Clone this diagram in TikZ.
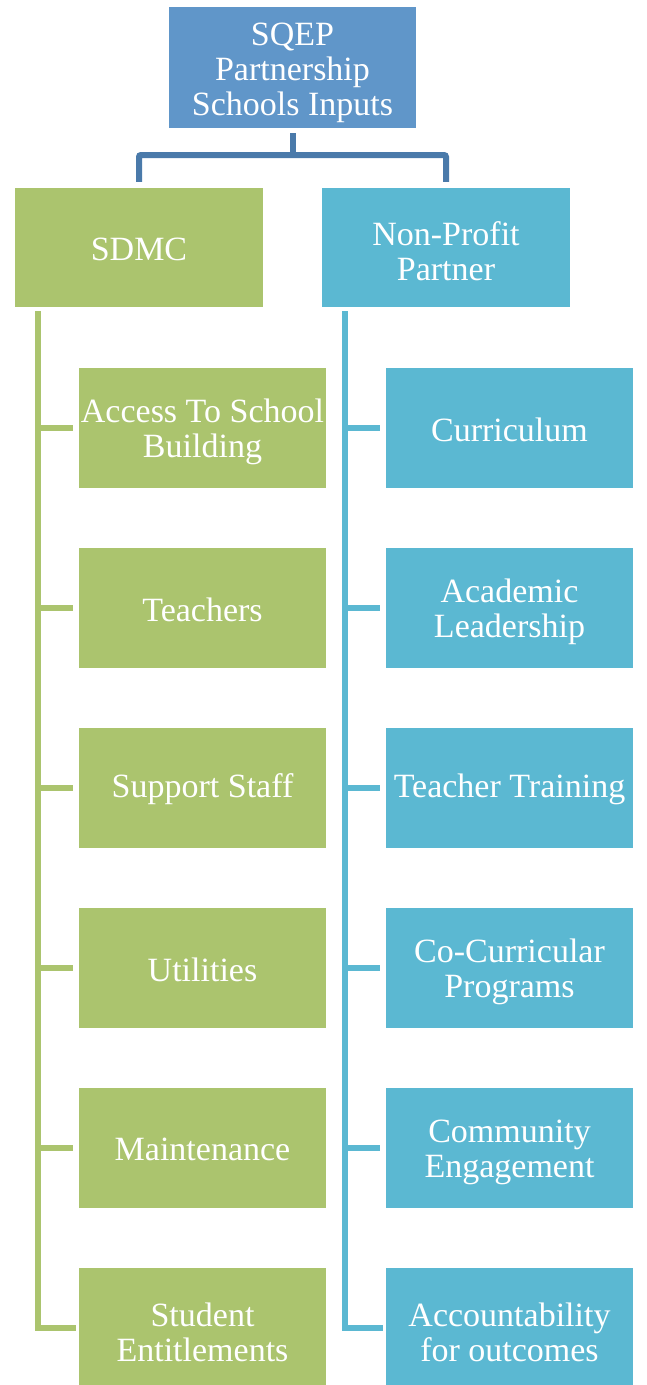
\documentclass[tikz,border=0pt]{standalone}
\usepackage{fontspec}
\setmainfont{Liberation Serif}
\definecolor{topblue}{RGB}{96,150,201}
\definecolor{linkblue}{RGB}{74,122,170}
\definecolor{leafgreen}{RGB}{171,196,110}
\definecolor{leafblue}{RGB}{91,184,210}
\tikzset{
  box/.style={minimum width=247pt, minimum height=120pt, inner sep=0pt},
  lbl/.style={inner sep=0pt, align=center, text=white, font=\fontsize{34}{35}\selectfont},
  gbox/.style={box, fill=leafgreen},
  bbox/.style={box, fill=leafblue},
  tline/.style={draw=linkblue, line width=6pt, rounded corners=2pt},
  gline/.style={draw=leafgreen, line width=5.5pt, shorten >=6pt},
  bline/.style={draw=leafblue, line width=5.5pt, shorten >=6pt},
}
\begin{document}
\begin{tikzpicture}[x=1pt,y=1pt]
\useasboundingbox (0,0) rectangle (646,-1385);
\node[box, fill=topblue, minimum height=121pt, label={[lbl,yshift=-5pt]center:{SQEP\\Partnership\\Schools Inputs}}] (top) at (292.5,-67.5) {};
\node[gbox, minimum width=248pt, minimum height=119pt, label={[lbl,yshift=-1.5pt]center:{SDMC}}] (sdmc) at (139,-247.5) {};
\node[bbox, minimum width=248pt, minimum height=119pt, label={[lbl,yshift=-4pt]center:{Non-Profit\\Partner}}] (npp) at (446,-247.5) {};
\foreach \n/\t/\s [count=\i from 0] in {g1/{Access To School\\Building}/-4, g2/Teachers/-1.5, g3/Support Staff/-1.5, g4/Utilities/-1.5, g5/Maintenance/-1.5, g6/{Student\\Entitlements}/-4}
  \node[gbox, label={[lbl,yshift=\s pt]center:{\t}}] (\n) at (202.5,-428-180*\i) {};
\foreach \n/\t/\s [count=\i from 0] in {b1/Curriculum/-1.5, b2/{Academic\\Leadership}/-4, b3/Teacher Training/-1.5, b4/{Co-Curricular\\Programs}/-4, b5/{Community\\Engagement}/-4, b6/{Accountability\\for outcomes}/-4}
  \node[bbox, label={[lbl,yshift=\s pt]center:{\t}}] (\n) at (509.5,-428-180*\i) {};
\coordinate (hub) at (292.5,-155);
\coordinate (gtop) at (38,-314);
\coordinate (btop) at (345,-314);
\draw[tline, shorten <=5pt] (top.south) -- (hub);
\draw[tline, shorten <=6pt, shorten >=6pt] (sdmc.north) |- (hub) -| (npp.north);
\draw[gline, line cap=rect] (gtop) |- (g6.west);
\draw[bline, line cap=rect] (btop) |- (b6.west);
\foreach \n in {g1,g2,g3,g4,g5}
  \draw[gline] (gtop |- \n.west) -- (\n.west);
\foreach \n in {b1,b2,b3,b4,b5}
  \draw[bline] (btop |- \n.west) -- (\n.west);
\end{tikzpicture}
\end{document}
